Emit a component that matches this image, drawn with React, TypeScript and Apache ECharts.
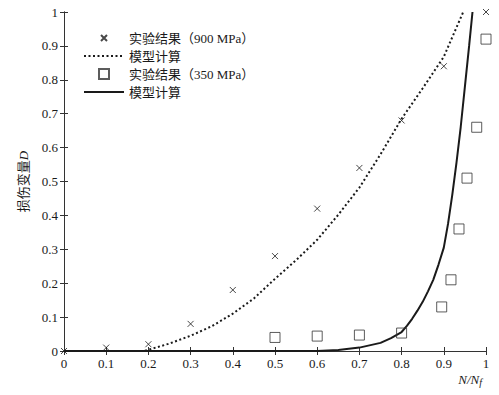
import React, { useEffect, useRef } from "react";
import * as echarts from "echarts";

const xTicks = [0, 0.1, 0.2, 0.3, 0.4, 0.5, 0.6, 0.7, 0.8, 0.9, 1];
const expX900 = [0, 0.1, 0.2, 0.3, 0.4, 0.5, 0.6, 0.7, 0.8, 0.9, 1.0];
const expD900 = [0, 0.01, 0.02, 0.08, 0.18, 0.28, 0.42, 0.54, 0.68, 0.84, 1.0];
const expX350 = [0.5, 0.6, 0.7, 0.8, 0.895, 0.917, 0.936, 0.955, 0.978, 1.0];
const expD350 = [0.04, 0.044, 0.047, 0.053, 0.13, 0.21, 0.36, 0.51, 0.66, 0.92];
const modX900 = [0, 0.19, 0.25, 0.3, 0.35, 0.4, 0.45, 0.5, 0.55, 0.6, 0.65, 0.7, 0.75, 0.8, 0.85, 0.9, 0.946];
const modD900 = [0, 0, 0.022, 0.045, 0.073, 0.11, 0.155, 0.213, 0.268, 0.328, 0.402, 0.482, 0.58, 0.685, 0.775, 0.868, 1.0];
const modX350 = [0, 0.6, 0.65, 0.7, 0.75, 0.775, 0.8, 0.8125, 0.825, 0.8375, 0.85, 0.8625, 0.875, 0.8875, 0.9, 0.91, 0.92, 0.93, 0.94, 0.95, 0.96, 0.968];
const modD350 = [0, 0, 0.003, 0.01, 0.024, 0.038, 0.056, 0.074, 0.095, 0.119, 0.145, 0.176, 0.21, 0.255, 0.305, 0.375, 0.46, 0.555, 0.66, 0.78, 0.9, 1.0];

const names = ["实验结果（900 MPa）", "模型计算", "实验结果（350 MPa）", "模型计算 "];

const FONT = "'Liberation Serif', 'Noto Sans CJK SC', serif";
const INK = "#1a1a1a";

const zip = (xs: number[], ys: number[]) => xs.map((x, i) => [x, ys[i]]);

export default function App() {
  const ref = useRef<HTMLDivElement>(null);
  useEffect(() => {
    if (!ref.current) return;
    const chart = echarts.init(ref.current, undefined, { renderer: "svg" });
    const axisCommon = {
      type: "value",
      min: 0,
      max: 1,
      interval: 0.1,
      axisLine: { show: true, lineStyle: { color: "#333", width: 1 } },
      axisTick: { show: true, inside: true, length: 4, lineStyle: { color: "#333" } },
      splitLine: { show: false },
    };
    chart.setOption({
      animation: false,
      backgroundColor: "#fff",
      grid: { left: 64, right: 13, top: 12, bottom: 44 },
      legend: {
        orient: "vertical",
        left: 83,
        top: 31,
        padding: 0,
        itemWidth: 40,
        itemHeight: 10,
        itemGap: 4,
        data: [
          { name: names[0] },
          { name: names[1], itemStyle: { opacity: 0 } },
          { name: names[2] },
          { name: names[3], itemStyle: { opacity: 0 } },
        ],
        textStyle: { fontFamily: FONT, fontSize: 13, color: INK, lineHeight: 14 },
      },
      xAxis: [
        {
          ...axisCommon,
          position: "bottom",
          axisLabel: {
            margin: 6,
            fontFamily: FONT,
            fontSize: 13,
            color: INK,
            formatter: (v: number) => (xTicks.includes(Math.round(v * 10) / 10) ? String(Math.round(v * 10) / 10) : ""),
          },
        },
        { ...axisCommon, position: "top", axisLabel: { show: false } },
      ],
      yAxis: [
        {
          ...axisCommon,
          position: "left",
          name: "{a|损伤变量}{b|D}",
          nameLocation: "middle",
          nameRotate: 90,
          nameGap: 34,
          nameTextStyle: {
            rich: {
              a: { fontFamily: FONT, fontSize: 13, color: INK },
              b: { fontFamily: FONT, fontSize: 13, color: INK, fontStyle: "italic" },
            },
          },
          axisLabel: {
            margin: 6,
            fontFamily: FONT,
            fontSize: 13,
            color: INK,
            formatter: (v: number) => String(Math.round(v * 10) / 10),
          },
        },
        { ...axisCommon, position: "right", axisLabel: { show: false } },
      ],
      graphic: [
        {
          type: "text",
          right: 17,
          top: 373,
          style: {
            text: "{i|N/N}{s|f}",
            rich: {
              i: { fontFamily: FONT, fontSize: 13, fontStyle: "italic", fill: INK },
              s: { fontFamily: FONT, fontSize: 10, fontStyle: "italic", fill: INK, padding: [6, 0, 0, 0] },
            },
          },
        },
      ],
      series: [
        {
          name: names[0],
          type: "scatter",
          data: zip(expX900, expD900),
          symbol: "path://M0,0M2,2L8,8M8,2L2,8M10,10",
          symbolSize: 10,
          symbolKeepAspect: true,
          clip: false,
          itemStyle: { color: "rgba(0,0,0,0)", borderColor: INK, borderWidth: 1 },
          z: 3,
        },
        {
          name: names[1],
          type: "line",
          data: zip(modX900, modD900),
          symbol: "circle",
          showSymbol: false,
          color: INK,
          lineStyle: { color: INK, width: 2, type: [2, 2.5] },
          z: 2,
        },
        {
          name: names[2],
          type: "scatter",
          data: zip(expX350, expD350),
          symbol: "path://M0,0H10V10H0Z",
          symbolSize: 10,
          symbolKeepAspect: true,
          clip: false,
          itemStyle: { color: "rgba(0,0,0,0)", borderColor: "#333", borderWidth: 1 },
          z: 3,
        },
        {
          name: names[3],
          type: "line",
          data: zip(modX350, modD350),
          symbol: "circle",
          showSymbol: false,
          color: INK,
          lineStyle: { color: INK, width: 2, type: "solid" },
          z: 2,
        },
      ],
    });
    return () => chart.dispose();
  }, []);
  return <div ref={ref} style={{ width: 499, height: 395, position: "fixed", left: 0, top: 0 }} />;
}
